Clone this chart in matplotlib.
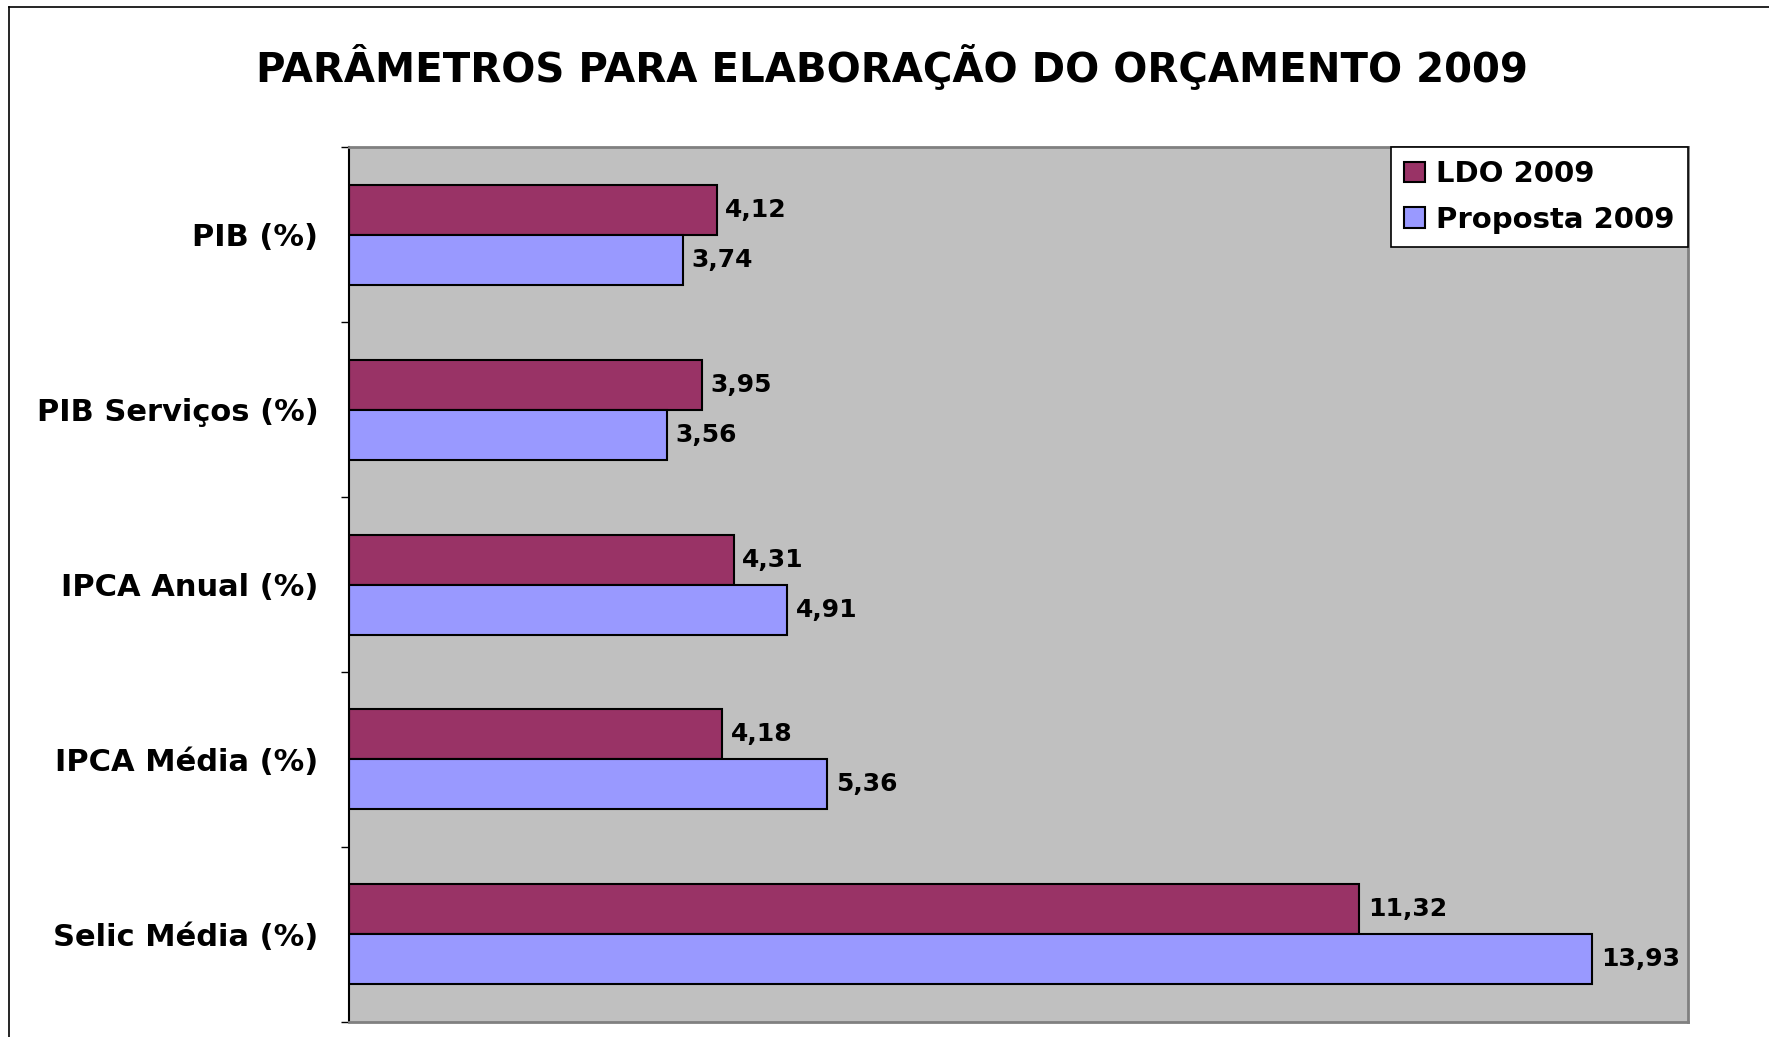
import matplotlib.pyplot as plt
from matplotlib.lines import Line2D
import numpy as np

categories = ['PIB (%)', 'PIB Serviços (%)', 'IPCA Anual (%)', 'IPCA Média (%)', 'Selic Média (%)']
ldo_2009 = [4.12, 3.95, 4.31, 4.18, 11.32]
proposta_2009 = [3.74, 3.56, 4.91, 5.36, 13.93]
series_names = ['LDO 2009', 'Proposta 2009']

plt.rcParams['font.family'] = ['DejaVu Sans']

fig = plt.figure(figsize=(17.69, 10.37), dpi=100)
ax = fig.add_axes([0.1973, 0.0145, 0.9542 - 0.1973, 0.8582 - 0.0145])

y = np.arange(len(categories))
h = 1 / 3.5

ax.barh(y - h / 2, ldo_2009, height=h, color='#993366', edgecolor='black',
        linewidth=1.5, label=series_names[0])
ax.barh(y + h / 2, proposta_2009, height=h, color='#9999FF', edgecolor='black',
        linewidth=1.5, label=series_names[1])

for i in range(len(categories)):
    for val, off in ((ldo_2009[i], -h / 2), (proposta_2009[i], h / 2)):
        ax.annotate(f'{val:.2f}'.replace('.', ','), (val, y[i] + off),
                    xytext=(6, 0), textcoords='offset points',
                    ha='left', va='center', fontsize=18, fontweight='bold')

ax.set_xlim(0, 15)
ax.set_ylim(len(categories) - 0.5, -0.5)
ax.set_facecolor('#C0C0C0')

ax.set_yticks(y)
ax.set_yticklabels(categories, fontsize=22, fontweight='bold')
ax.set_yticks(np.arange(len(categories) + 1) - 0.5, minor=True)
ax.tick_params(axis='y', which='major', length=0, pad=22)
ax.tick_params(axis='y', which='minor', length=6, width=1, color='black')
ax.set_xticks([])

for s in ('top', 'right', 'bottom'):
    ax.spines[s].set_color('#808080')
    ax.spines[s].set_linewidth(2)
ax.spines['left'].set_color('black')
ax.spines['left'].set_linewidth(1.5)

leg = ax.legend(loc='upper right', bbox_to_anchor=(1.0, 1.0),
                prop={'weight': 'bold', 'size': 21}, frameon=True, fancybox=False,
                edgecolor='black', framealpha=1, borderpad=0.45, labelspacing=0.6,
                handlelength=0.7, handleheight=0.7, handletextpad=0.4,
                borderaxespad=0)
leg.get_frame().set_linewidth(1.2)

fig.suptitle('PARÂMETROS PARA ELABORAÇÃO DO ORÇAMENTO 2009', x=0.504, y=0.935,
             fontsize=29, fontweight='bold', va='center')

# chart outer border (top and left edges visible)
fig.add_artist(Line2D([9 / 1769, 9 / 1769], [0, 1 - 7 / 1037], color='black', lw=1.2))
fig.add_artist(Line2D([9 / 1769, 1], [1 - 7 / 1037, 1 - 7 / 1037], color='black', lw=1.2))

fig.savefig('out.png', dpi=100)
